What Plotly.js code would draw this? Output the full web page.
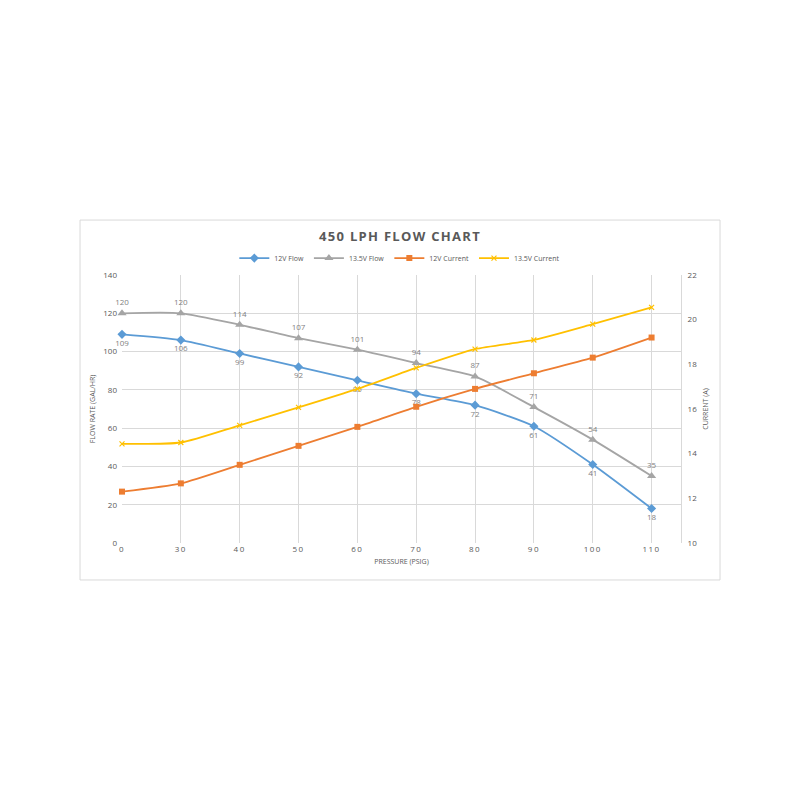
<!DOCTYPE html>
<html>
<head>
<meta charset="utf-8">
<script src="https://cdn.plot.ly/plotly-3.0.1.min.js"></script>
<style>
html,body{margin:0;padding:0;background:#fff;}
#chart{width:800px;height:800px;}
#chart .gtitle{letter-spacing:1.3px;}
#chart .xtick text{letter-spacing:1.5px;}
</style>
</head>
<body>
<div id="chart"></div>
<script>
var pressure = ['0','30','40','50','60','70','80','90','100','110'];
var flow12 = [109,106,99,92,85,78,72,61,41,18];
var flow135 = [120,120,114,107,101,94,87,71,54,35];
var current12 = [12.3,12.67,13.5,14.35,15.2,16.1,16.9,17.6,18.3,19.2];
var current135 = [14.44,14.5,15.27,16.07,16.9,17.84,18.68,19.09,19.8,20.55];

var labelFont = {family:'Open Sans, Liberation Sans, sans-serif', size:8, color:'#7f7f7f'};
var lineShape = {shape:'spline', smoothing:0.6, width:1.8};

var traces = [
  {x:pressure, y:flow12, name:'12V Flow', type:'scatter', mode:'lines+markers+text',
   text:flow12.map(String), textposition:'bottom center', textfont:labelFont, cliponaxis:false,
   line:Object.assign({color:'#5B9BD5'}, lineShape), marker:{symbol:'diamond', size:7, color:'#5B9BD5'}},
  {x:pressure, y:flow135, name:'13.5V Flow', type:'scatter', mode:'lines+markers+text',
   text:flow135.map(String), textposition:'top center', textfont:labelFont, cliponaxis:false,
   line:Object.assign({color:'#A5A5A5'}, lineShape), marker:{symbol:'triangle-up', size:8, color:'#A5A5A5'}},
  {x:pressure, y:current12, name:'12V Current', type:'scatter', mode:'lines+markers', yaxis:'y2', cliponaxis:false,
   line:Object.assign({color:'#ED7D31'}, lineShape), marker:{symbol:'square', size:6, color:'#ED7D31'}},
  {x:pressure, y:current135, name:'13.5V Current', type:'scatter', mode:'lines+markers', yaxis:'y2', cliponaxis:false,
   line:Object.assign({color:'#FFC000'}, lineShape), marker:{symbol:'x-thin', size:5, color:'#FFC000', line:{color:'#FFC000', width:1.2}}}
];

var tickFont = {family:'Open Sans, Liberation Sans, sans-serif', size:8, color:'#595959'};
var titleFont = {family:'Open Sans, Liberation Sans, sans-serif', size:7, color:'#595959'};

var layout = {
  width:800, height:800,
  margin:{l:122, r:119, t:275, b:257, pad:0},
  paper_bgcolor:'#ffffff', plot_bgcolor:'#ffffff',
  showlegend:true,
  title:{text:'<b>450 LPH FLOW CHART</b>', x:0.5, xanchor:'center', y:0.705, yanchor:'middle', yref:'container',
         font:{family:'Open Sans, Liberation Sans, sans-serif', size:13, color:'#595959'}},
  legend:{orientation:'h', x:0.497, xanchor:'center', y:1.063, yanchor:'middle',
          font:{family:'Open Sans, Liberation Sans, sans-serif', size:7, color:'#595959'},
          itemwidth:30, tracegroupgap:0},
  xaxis:{type:'category', range:[0,9.5], showgrid:true, gridcolor:'#d9d9d9', gridwidth:1,
         showline:false, zeroline:false, ticks:'', tickfont:tickFont,
         title:{text:'PRESSURE (PSIG)', font:titleFont, standoff:6}},
  yaxis:{range:[0,140], dtick:20, showgrid:true, gridcolor:'#d9d9d9', gridwidth:1, zeroline:false,
         showline:false, ticks:'', tickfont:tickFont, ticklabelstandoff:4,
         title:{text:'FLOW RATE (GAL/HR)', font:titleFont, standoff:6}},
  yaxis2:{range:[10,22], dtick:2, overlaying:'y', side:'right', showgrid:false, zeroline:false,
          showline:true, linecolor:'#d9d9d9', linewidth:1, ticks:'', tickfont:tickFont, ticklabelstandoff:4,
          title:{text:'CURRENT (A)', font:titleFont, standoff:6}},
  shapes:[
    {type:'rect', xref:'paper', yref:'paper', x0:-0.0751, x1:1.0698, y0:-0.138, y1:1.205,
     line:{color:'#d9d9d9', width:1}, fillcolor:'rgba(0,0,0,0)', layer:'below'}
  ]
};

Plotly.newPlot('chart', traces, layout, {displayModeBar:false, staticPlot:true});
</script>
</body>
</html>
